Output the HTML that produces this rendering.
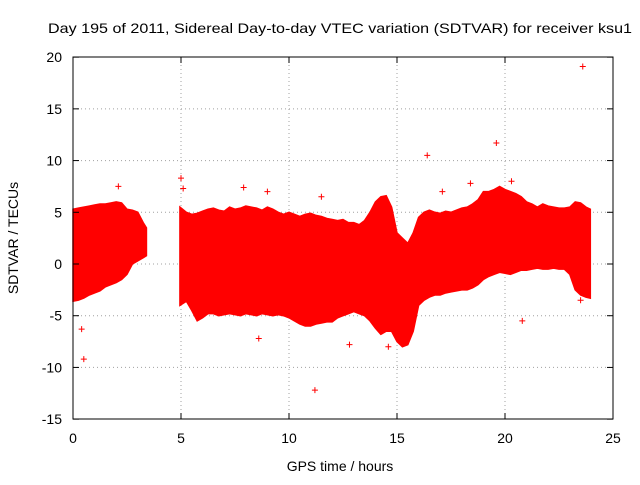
<!DOCTYPE html>
<html><head><meta charset="utf-8"><style>
body{margin:0;background:#fff}
svg text{font-family:"Liberation Sans",sans-serif;font-size:14px;fill:#000}
</style></head><body>
<svg width="640" height="480" viewBox="0 0 640 480" xmlns="http://www.w3.org/2000/svg">
<rect width="640" height="480" fill="#fff"/>
<g id="grid"></g>
<g id="data"></g>
<rect x="73" y="57" width="540" height="362" fill="none" stroke="#000" stroke-width="1"/>
<g id="ticks"></g>
<text x="340" y="33" text-anchor="middle" textLength="584" lengthAdjust="spacingAndGlyphs">Day 195 of 2011, Sidereal Day-to-day VTEC variation (SDTVAR) for receiver ksu1</text>
<text x="340" y="471" text-anchor="middle">GPS time / hours</text>
<text x="18" y="238" text-anchor="middle" transform="rotate(-90 18 238)">SDTVAR / TECUs</text>
</svg>
<script>
const xTicks=[0,5,10,15,20,25];
const yTicks=[-15,-10,-5,0,5,10,15,20];
const seg1Times=[0,0.25,0.5,0.75,1,1.25,1.5,1.75,2,2.25,2.5,2.75,3,3.25,3.4];
const seg1Upper=[5.3,5.4,5.5,5.6,5.7,5.8,5.8,5.9,6,5.9,5.3,5.2,5,4,3.5];
const seg1Lower=[-3.6,-3.5,-3.3,-3,-2.8,-2.6,-2.2,-2,-1.8,-1.5,-1,0,0.3,0.6,0.8];
const seg2Times=[4.95,5.25,5.5,5.75,6,6.25,6.5,6.75,7,7.25,7.5,7.75,8,8.25,8.5,8.75,9,9.25,9.5,9.75,10,10.25,10.5,10.75,11,11.25,11.5,11.75,12,12.25,12.5,12.75,13,13.25,13.5,13.75,14,14.25,14.5,14.75,15,15.25,15.5,15.75,16,16.25,16.5,16.75,17,17.25,17.5,17.75,18,18.25,18.5,18.75,19,19.25,19.5,19.75,20,20.25,20.5,20.75,21,21.25,21.5,21.75,22,22.25,22.5,22.75,23,23.25,23.5,23.75,23.95];
const seg2Upper=[5.5,5,4.8,4.9,5.1,5.3,5.4,5.2,5.1,5.5,5.3,5.4,5.6,5.5,5.4,5.2,5.5,5.3,5,4.8,5,4.8,4.6,4.8,4.9,4.7,4.6,4.4,4.3,4.2,4.3,4,4,3.8,4.2,5,6,6.5,6.6,5.5,3,2.5,2,3,4.5,5,5.2,5,4.9,5.1,5,5.2,5.4,5.5,5.8,6.2,7,7,7.2,7.5,7.2,7,6.8,6.5,6,5.8,5.5,5.8,5.6,5.5,5.4,5.4,5.5,6,5.9,5.5,5.3];
const seg2Lower=[-4,-3.6,-4.5,-5.5,-5.2,-4.8,-4.8,-5,-4.9,-4.8,-4.9,-5,-4.8,-4.9,-5,-4.8,-4.9,-5,-4.9,-5,-5.2,-5.5,-5.8,-6,-6,-5.8,-5.7,-5.6,-5.6,-5.2,-5,-4.8,-4.6,-4.8,-5,-5.5,-6.2,-6.8,-6.5,-6.5,-7.5,-8,-7.8,-6.5,-4,-3.5,-3.2,-3,-3,-2.8,-2.7,-2.6,-2.5,-2.5,-2.3,-2,-1.5,-1.2,-1,-0.8,-0.9,-1,-0.8,-0.6,-0.6,-0.5,-0.4,-0.5,-0.5,-0.4,-0.5,-0.5,-1,-2.5,-3,-3.2,-3.3];
const outX=[0.4,0.5,2.1,5.0,5.1,7.9,8.6,9.0,11.2,11.5,12.8,14.6,16.4,17.1,18.4,19.6,20.3,20.8,23.5,23.6];
const outY=[-6.3,-9.2,7.5,8.3,7.3,7.4,-7.2,7,-12.2,6.5,-7.8,-8,10.5,7,7.8,11.7,8,-5.5,-3.5,19.1];
const NS="http://www.w3.org/2000/svg";
const X=v=>73+v*540/25, Y=v=>264-v*362/35;
function mk(p,t,a){const e=document.createElementNS(NS,t);for(const k in a)e.setAttribute(k,a[k]);p.appendChild(e);return e;}
const grid=document.getElementById('grid'),ticks=document.getElementById('ticks'),data=document.getElementById('data');
xTicks.forEach(v=>{
 if(v>0&&v<25){const g=mk(grid,'line',{x1:X(v),x2:X(v),y1:57,y2:419,stroke:'#a0a0a0','stroke-dasharray':'1,3'});
 
 }
 mk(ticks,'line',{x1:X(v),x2:X(v),y1:419,y2:413,stroke:'#000'});
 mk(ticks,'line',{x1:X(v),x2:X(v),y1:57,y2:63,stroke:'#000'});
 const t=mk(ticks,'text',{x:X(v),y:443,'text-anchor':'middle'});t.textContent=v;
 
 
});
yTicks.forEach(v=>{
 if(v>-15&&v<20){const g=mk(grid,'line',{x1:73,x2:613,y1:Y(v),y2:Y(v),stroke:'#a0a0a0','stroke-dasharray':'1,3'});
 
 }
 mk(ticks,'line',{x1:73,x2:79,y1:Y(v),y2:Y(v),stroke:'#000'});
 mk(ticks,'line',{x1:613,x2:607,y1:Y(v),y2:Y(v),stroke:'#000'});
 const t=mk(ticks,'text',{x:62,y:Y(v)+5,'text-anchor':'end'});t.textContent=v;
 
 
});
function band(ts,up,lo){
 let d='';
 ts.forEach((t,i)=>{d+=(i?'L':'M')+X(t)+' '+Y(up[i]);});
 for(let i=ts.length-1;i>=0;i--)d+='L'+X(ts[i])+' '+Y(lo[i]);
 const p=mk(data,'path',{d:d+'Z',fill:'#f00',stroke:'#f00','stroke-width':1.5});
 
 
}
band(seg1Times,seg1Upper,seg1Lower);
band(seg2Times,seg2Upper,seg2Lower);
outX.forEach((t,i)=>{
 const x=X(t),y=Y(outY[i]);
 const g=mk(data,'path',{d:`M${x-3} ${y}H${x+3}M${x} ${y-3}V${y+3}`,stroke:'#f00','stroke-width':1});
 
 
});
</script>
</body></html>
